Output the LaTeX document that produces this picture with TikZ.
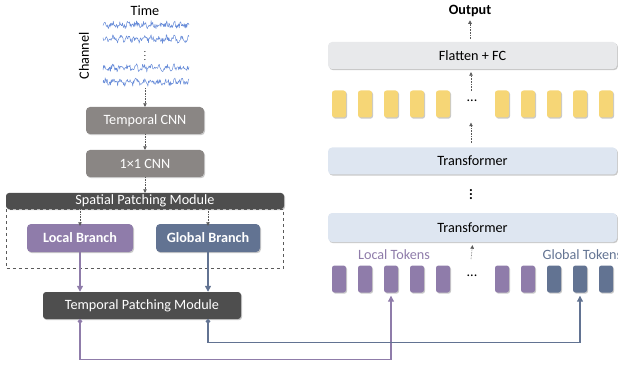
\documentclass[tikz,border=0pt]{standalone}
\usepackage{fontspec}
\setmainfont{Carlito}
\usetikzlibrary{calc,positioning,arrows.meta,shadows}
\definecolor{wavec}{RGB}{104,140,216}
\definecolor{cnngray}{RGB}{138,134,132}
\definecolor{modgray}{RGB}{78,78,78}
\definecolor{locc}{RGB}{143,124,170}
\definecolor{globc}{RGB}{98,115,146}
\definecolor{fcgray}{RGB}{232,233,235}
\definecolor{trblue}{RGB}{222,230,241}
\definecolor{tokyel}{RGB}{246,214,118}
\definecolor{arrgray}{RGB}{90,90,90}
\newcommand\boxfont{\fontsize{14.2}{17}\selectfont}
\tikzset{
  wave/.style={draw=wavec, line width=0.5pt, line join=round},
  boxshadow/.style={drop shadow={shadow xshift=1pt, shadow yshift=-1.2pt, opacity=0.3, fill=black!70}},
  cnnbox/.style={fill=cnngray, rounded corners=4pt, text=white, font=\boxfont, minimum width=118pt, minimum height=27pt, boxshadow},
  modbox/.style={fill=modgray, rounded corners=3pt, text=white, font=\boxfont, inner sep=0pt, boxshadow},
  branch/.style={rounded corners=4pt, text=white, font=\boxfont\bfseries, minimum height=28pt, boxshadow},
  widebox/.style={rounded corners=4pt, font=\boxfont, minimum width=289pt, minimum height=27pt, boxshadow},
  tok/.style={rounded corners=2.5pt, minimum width=14pt, minimum height=27pt, inner sep=0pt, boxshadow},
  dotarr/.style={arrgray, densely dotted, line width=0.6pt, -{Triangle[length=3.5pt,width=3.5pt]}},
  solarr/.style={line width=1.3pt, -{Triangle[length=6pt,width=6pt]}},
  linkarr/.style={line width=1.1pt, {Circle[length=4.5pt]}-{Triangle[length=6pt,width=6pt]}},
}

\begin{document}
\begin{tikzpicture}[x=1pt,y=-1pt]
  \useasboundingbox (0,0) rectangle (618,366);
  % input signals
  \node[font=\boxfont] (time) at (145,11) {Time};
  \node[font=\boxfont, rotate=90] (chan) at (84,56) {Channel};
  \pgfmathsetseed{11}
  \foreach \yy in {25,39,68,82}
    \draw[wave] plot[domain=103:189, samples=160] (\x, {\yy + 1.6*sin(\x*47) + 2.8*rand});
  \node[font=\small, inner sep=0pt] (vd) at (145,53) {$\vdots$};
  \coordinate (sig) at (145,88);
  % left column
  \node[cnnbox] (tcnn) at (145,120.5) {Temporal CNN};
  \node[cnnbox] (cnn1) at (145,163.5) {1\texttimes1 CNN};
  \node[modbox, minimum width=278pt, minimum height=16pt] (spm) at (145,201) {Spatial Patching Module};
  \node[branch, fill=locc, minimum width=106pt] (lb) at (80,238) {Local Branch};
  \node[branch, fill=globc, minimum width=104pt] (gb) at (208,238) {Global Branch};
  \draw[arrgray, dashed, line width=0.5pt] (spm.south west) rectangle ($(spm.east |- gb.south)+(-1,16)$);
  \node[modbox, minimum width=198pt, minimum height=27pt] (tpm) at (142,305.5) {Temporal Patching Module};
  \draw[dotarr] (sig) -- (tcnn.north);
  \draw[dotarr] (tcnn.south) -- (cnn1.north);
  \draw[dotarr] (cnn1.south) -- (spm.north);
  \draw[dotarr] (spm.south -| lb) -- ([yshift=-2pt]lb.north);
  \draw[dotarr] (spm.south -| gb) -- ([yshift=-2pt]gb.north);
  \draw[solarr, locc] (lb.south) -- (tpm.north -| lb);
  \draw[solarr, globc] (gb.south) -- (tpm.north -| gb);
  % right column
  \node[font=\boxfont\bfseries] (out) at (470,11) {Output};
  \node[widebox, fill=fcgray] (fc) at (472.5,55.5) {Flatten + FC};
  \node[widebox, fill=trblue] (tr1) at (472.5,161) {Transformer};
  \node[font=\boxfont\bfseries, inner sep=0pt] (vd2) at (471,192) {$\vdots$};
  \node[widebox, fill=trblue, minimum height=29pt] (tr2) at (472.5,227.5) {Transformer};
  \foreach \i in {1,...,5} {
    \node[tok, fill=tokyel] (y\i) at ({339+26*(\i-1)},104) {};
    \node[tok, fill=locc] (t\i) at ({339+26*(\i-1)},279) {};
  }
  \foreach \i in {6,...,10} {
    \node[tok, fill=tokyel] (y\i) at ({502+26*(\i-6)},104) {};
  }
  \foreach \i/\c in {6/locc,7/locc,8/globc,9/globc,10/globc}
    \node[tok, fill=\c] (t\i) at ({502+26*(\i-6)},279) {};
  \node[font=\boxfont] (dots1) at (472,101) {...};
  \node[font=\boxfont] (dots2) at (472,276) {...};
  \node[font=\boxfont, text=locc] (ltok) at (394,255) {Local Tokens};
  \node[font=\boxfont, text=globc, anchor=west] (gtok) at (539,255) {Global Tokens};
  \coordinate (a1) at (471,259);
  \coordinate (a2) at (471,143);
  \coordinate (a3) at (471,91);
  \draw[dotarr] (a1) -- ([yshift=-3pt]tr2.south);
  \draw[dotarr] (a2) -- ([yshift=-5pt]a2 |- y5.south);
  \draw[dotarr] (a3) -- ([yshift=-3pt]fc.south -| a3);
  \draw[dotarr] ([yshift=3pt]fc.north -| out) -- (out.south);
  % token links
  \draw[linkarr, locc] (tpm.south -| lb) -- ++(0,40) -| ([yshift=-3pt]t3.south);
  \draw[linkarr, globc] (tpm.south -| gb) -- ++(0,23) -| ([yshift=-3pt]t9.south);
\end{tikzpicture}
\end{document}
